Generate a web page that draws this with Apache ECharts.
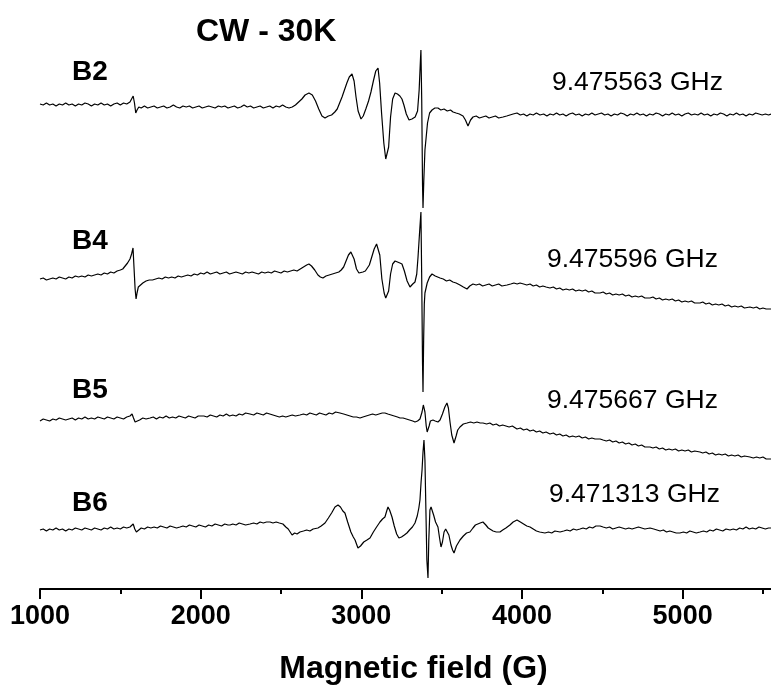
<!DOCTYPE html>
<html><head><meta charset="utf-8">
<script src="https://cdn.jsdelivr.net/npm/echarts@6/dist/echarts.min.js"></script>
<style>html,body{margin:0;padding:0;background:#fff}#c{width:771px;height:692px}</style>
</head><body><div id="c"></div><script>
const FONT = '"Liberation Sans", Arial, sans-serif';
const majorTicks = [1000, 2000, 3000, 4000, 5000];
const minorTicks = [1500, 2500, 3500, 4500, 5500];
const sampleNames = ['B2', 'B4', 'B5', 'B6'];
const frequencies = ['9.475563 GHz', '9.475596 GHz', '9.475667 GHz', '9.471313 GHz'];
const traceOffsets = [484, 310, 169, 59];

const traceB2 = [[1000,1],[1020,0],[1040,2],[1060,0],[1080,1],[1100,-1],[1120,1],[1140,0],[1160,2],[1180,0],[1200,1],[1220,-1],[1240,1],[1260,0],[1280,2],[1300,1],[1320,-1],[1340,1],[1360,0],[1380,2],[1400,0],[1420,1],[1440,-1],[1460,1],[1480,2],[1500,0],[1520,2],[1540,1],[1560,3],[1572,5],[1580,9],[1588,2],[1596,-8],[1604,-5],[1615,-2],[1630,-3],[1650,-1],[1670,-3],[1690,-2],[1710,-1],[1730,-3],[1750,-2],[1770,-1],[1790,-3],[1810,-2],[1830,0],[1850,-2],[1870,-3],[1890,-1],[1910,-2],[1930,-1],[1950,-3],[1970,-2],[1990,-1],[2010,-3],[2030,-2],[2050,-1],[2070,-2],[2090,-3],[2110,-1],[2130,-2],[2150,-1],[2170,-3],[2190,-2],[2210,-1],[2230,-3],[2250,-2],[2270,0],[2290,-2],[2310,-1],[2330,-3],[2350,-2],[2370,-1],[2390,-3],[2410,-2],[2430,-1],[2450,-3],[2470,-1],[2490,-2],[2510,0],[2530,-2],[2550,-3],[2570,-2],[2590,0],[2610,3],[2630,6],[2650,10],[2674,12],[2695,10],[2715,4],[2735,-4],[2755,-11],[2774,-13],[2795,-11],[2815,-10],[2835,-7],[2850,-4],[2865,2],[2880,8],[2895,15],[2910,22],[2925,28],[2942,31],[2955,24],[2967,8],[2980,-6],[2998,-14],[3012,-11],[3028,-4],[3045,4],[3060,13],[3075,24],[3090,34],[3104,37],[3114,22],[3126,-8],[3140,-38],[3152,-54],[3160,-56],[3170,-42],[3182,-12],[3195,6],[3210,12],[3225,11],[3240,9],[3253,6],[3265,0],[3280,-9],[3297,-15],[3315,-14],[3335,-12],[3350,-6],[3360,15],[3368,45],[3371,55],[3376,5],[3381,-80],[3384,-103],[3389,-75],[3396,-45],[3402,-35],[3412,-18],[3425,-8],[3440,-5],[3458,-3],[3477,-3],[3495,-5],[3515,-4],[3535,-6],[3555,-5],[3571,-7],[3590,-8],[3610,-9],[3633,-11],[3648,-15],[3664,-21],[3680,-15],[3695,-12],[3715,-11],[3735,-13],[3755,-12],[3775,-11],[3795,-13],[3815,-12],[3835,-11],[3855,-13],[3882,-12],[3905,-11],[3925,-10],[3945,-9],[3969,-8],[3990,-10],[4010,-9],[4030,-11],[4050,-9],[4070,-10],[4090,-8],[4112,-10],[4135,-9],[4155,-11],[4175,-9],[4195,-10],[4215,-8],[4235,-10],[4255,-9],[4275,-11],[4295,-9],[4315,-8],[4335,-10],[4355,-9],[4375,-11],[4395,-9],[4415,-10],[4435,-8],[4455,-10],[4475,-9],[4495,-8],[4515,-10],[4535,-9],[4555,-11],[4575,-9],[4595,-10],[4615,-8],[4635,-9],[4655,-11],[4675,-9],[4695,-10],[4715,-8],[4735,-10],[4755,-9],[4775,-11],[4795,-9],[4815,-10],[4835,-8],[4855,-9],[4875,-11],[4895,-9],[4915,-10],[4935,-8],[4955,-10],[4975,-9],[4995,-11],[5015,-9],[5035,-8],[5055,-10],[5075,-9],[5095,-10],[5115,-8],[5135,-10],[5155,-9],[5175,-11],[5195,-9],[5215,-10],[5235,-8],[5255,-9],[5275,-11],[5295,-9],[5315,-10],[5335,-8],[5355,-10],[5375,-9],[5395,-11],[5415,-9],[5435,-10],[5455,-8],[5475,-9],[5495,-10],[5515,-9],[5535,-10],[5550,-9]];

const traceB4 = [[1000,0],[1020,1],[1040,-1],[1060,0],[1080,1],[1100,0],[1120,2],[1140,1],[1160,0],[1180,2],[1200,1],[1220,3],[1240,2],[1260,3],[1280,2],[1300,4],[1320,3],[1340,4],[1360,5],[1380,4],[1400,6],[1420,5],[1440,7],[1460,6],[1480,8],[1500,9],[1515,10],[1530,13],[1545,16],[1560,20],[1570,25],[1579,31],[1585,12],[1592,-10],[1598,-20],[1604,-14],[1612,-8],[1622,-6],[1640,-4],[1660,-2],[1680,-1],[1700,-1],[1720,0],[1740,1],[1760,0],[1780,2],[1800,1],[1820,2],[1840,1],[1860,3],[1880,2],[1900,3],[1920,4],[1940,3],[1960,5],[1980,4],[2000,6],[2020,5],[2040,7],[2060,5],[2080,6],[2100,7],[2120,5],[2140,6],[2160,7],[2180,5],[2200,6],[2220,7],[2240,6],[2260,5],[2280,7],[2300,6],[2320,7],[2340,6],[2360,5],[2380,7],[2400,6],[2420,7],[2440,6],[2460,8],[2480,7],[2500,6],[2520,8],[2540,7],[2560,8],[2580,9],[2600,8],[2620,10],[2640,12],[2660,14],[2674,15],[2690,13],[2710,9],[2730,4],[2745,2],[2761,1],[2780,3],[2800,4],[2820,5],[2840,6],[2860,7],[2875,9],[2890,12],[2905,18],[2920,24],[2935,27],[2942,28],[2955,20],[2970,10],[2985,6],[2992,6],[3010,7],[3025,8],[3035,9],[3050,14],[3065,22],[3080,30],[3095,35],[3104,36],[3115,24],[3128,0],[3142,-14],[3152,-19],[3160,-20],[3170,-12],[3182,5],[3195,15],[3210,18],[3225,17],[3240,16],[3253,15],[3268,8],[3285,-2],[3303,-8],[3320,-5],[3334,-3],[3345,5],[3353,22],[3362,45],[3371,67],[3376,0],[3381,-85],[3384,-113],[3388,-60],[3392,-25],[3396,-14],[3410,-4],[3425,2],[3440,5],[3460,3],[3490,1],[3510,0],[3530,-2],[3550,-1],[3570,-3],[3590,-4],[3614,-6],[3635,-8],[3658,-10],[3675,-7],[3695,-5],[3715,-6],[3735,-5],[3755,-7],[3775,-6],[3795,-5],[3815,-7],[3835,-6],[3855,-5],[3875,-7],[3907,-6],[3930,-5],[3950,-4],[3970,-5],[3988,-4],[4010,-5],[4030,-6],[4050,-5],[4070,-7],[4090,-6],[4110,-8],[4130,-7],[4150,-8],[4174,-9],[4195,-8],[4215,-10],[4235,-9],[4255,-11],[4275,-10],[4295,-11],[4315,-10],[4335,-12],[4355,-11],[4375,-12],[4395,-11],[4415,-13],[4435,-12],[4455,-14],[4486,-14],[4505,-13],[4525,-15],[4545,-14],[4565,-16],[4585,-15],[4605,-16],[4625,-15],[4645,-17],[4665,-16],[4685,-18],[4705,-17],[4725,-18],[4745,-17],[4765,-19],[4797,-19],[4815,-18],[4835,-20],[4855,-19],[4875,-21],[4895,-20],[4915,-21],[4935,-20],[4955,-22],[4975,-21],[4995,-23],[5015,-22],[5035,-23],[5055,-22],[5075,-24],[5108,-24],[5125,-23],[5145,-25],[5165,-24],[5185,-26],[5205,-25],[5225,-26],[5245,-25],[5265,-27],[5285,-26],[5305,-28],[5325,-27],[5345,-28],[5365,-27],[5385,-29],[5419,-28],[5440,-29],[5460,-28],[5480,-30],[5500,-29],[5520,-30],[5550,-30]];

const traceB5 = [[1000,-1],[1020,1],[1040,0],[1060,-1],[1080,1],[1100,0],[1120,2],[1140,1],[1160,0],[1180,1],[1200,2],[1220,0],[1240,2],[1260,1],[1280,3],[1300,1],[1320,2],[1340,1],[1360,3],[1380,2],[1400,1],[1420,3],[1440,2],[1460,1],[1480,3],[1500,2],[1520,1],[1540,3],[1560,4],[1573,6],[1582,2],[1592,-2],[1604,-2],[1620,0],[1640,2],[1660,1],[1685,2],[1705,3],[1725,1],[1745,3],[1765,2],[1785,4],[1805,2],[1825,3],[1845,2],[1865,4],[1885,3],[1905,2],[1925,4],[1945,3],[1965,2],[1985,4],[1996,3],[2020,4],[2040,3],[2060,5],[2080,4],[2100,3],[2120,5],[2140,4],[2160,6],[2180,4],[2200,5],[2220,4],[2240,6],[2260,5],[2280,7],[2307,6],[2330,5],[2350,7],[2370,6],[2390,5],[2410,7],[2430,6],[2450,5],[2470,4],[2490,3],[2510,4],[2530,3],[2550,4],[2570,5],[2590,4],[2618,5],[2640,6],[2660,5],[2680,7],[2700,6],[2720,5],[2740,7],[2760,6],[2780,5],[2800,7],[2820,6],[2840,8],[2867,7],[2890,6],[2910,5],[2930,4],[2950,3],[2970,3],[2992,2],[3010,3],[3030,4],[3050,5],[3070,6],[3090,5],[3110,6],[3130,7],[3147,7],[3165,6],[3185,5],[3205,4],[3225,3],[3241,2],[3260,2],[3280,1],[3300,0],[3320,-1],[3334,-2],[3350,-1],[3365,1],[3378,8],[3386,15],[3390,17],[3396,8],[3404,-6],[3410,-12],[3415,-13],[3422,-6],[3430,-1],[3446,0],[3460,-1],[3477,-2],[3490,0],[3505,6],[3520,13],[3533,17],[3542,12],[3552,-2],[3563,-15],[3577,-23],[3590,-16],[3600,-10],[3614,-7],[3635,-4],[3658,-3],[3680,-2],[3700,-3],[3720,-2],[3740,-3],[3757,-3],[3780,-4],[3800,-3],[3820,-5],[3840,-4],[3860,-6],[3880,-5],[3900,-6],[3920,-7],[3940,-6],[3969,-9],[3990,-8],[4010,-10],[4030,-9],[4050,-11],[4070,-10],[4090,-12],[4110,-11],[4130,-13],[4150,-12],[4174,-14],[4195,-13],[4215,-15],[4235,-14],[4255,-16],[4275,-15],[4295,-17],[4315,-16],[4335,-17],[4355,-16],[4375,-18],[4395,-17],[4415,-19],[4435,-18],[4455,-19],[4486,-19],[4505,-20],[4525,-21],[4545,-20],[4565,-22],[4585,-21],[4605,-23],[4625,-22],[4645,-24],[4665,-23],[4685,-25],[4705,-24],[4725,-26],[4745,-25],[4765,-27],[4797,-27],[4815,-28],[4835,-27],[4855,-29],[4875,-28],[4895,-30],[4915,-29],[4935,-30],[4955,-29],[4975,-31],[4995,-30],[5015,-31],[5035,-30],[5055,-32],[5075,-31],[5108,-32],[5125,-33],[5145,-32],[5165,-34],[5185,-33],[5205,-35],[5225,-34],[5245,-35],[5265,-34],[5285,-36],[5305,-35],[5325,-36],[5345,-35],[5365,-37],[5385,-36],[5419,-37],[5440,-38],[5460,-37],[5480,-38],[5500,-37],[5520,-39],[5550,-39]];

const traceB6 = [[1000,0],[1020,1],[1040,-1],[1060,1],[1080,0],[1100,2],[1120,0],[1140,1],[1160,-1],[1180,1],[1200,0],[1220,2],[1240,1],[1260,0],[1280,2],[1300,1],[1320,0],[1340,2],[1360,1],[1380,0],[1400,2],[1420,1],[1440,3],[1460,1],[1480,2],[1500,1],[1520,3],[1540,2],[1560,3],[1572,4],[1580,6],[1590,1],[1600,-2],[1612,0],[1630,2],[1650,1],[1670,3],[1690,2],[1710,3],[1730,2],[1750,4],[1770,3],[1790,2],[1810,4],[1830,3],[1850,2],[1871,3],[1890,4],[1910,3],[1930,5],[1950,4],[1970,3],[1990,5],[2010,4],[2030,3],[2050,5],[2070,4],[2090,6],[2110,5],[2130,4],[2150,6],[2170,5],[2183,5],[2200,6],[2220,5],[2240,7],[2260,6],[2280,5],[2307,6],[2330,7],[2350,6],[2370,8],[2390,7],[2410,8],[2432,8],[2450,7],[2470,8],[2490,7],[2512,6],[2530,3],[2545,1],[2556,0],[2569,-5],[2585,-3],[2600,-4],[2618,-2],[2640,-1],[2660,0],[2680,-1],[2700,1],[2712,1],[2730,2],[2750,4],[2774,7],[2795,12],[2815,17],[2836,23],[2855,25],[2870,23],[2885,19],[2898,17],[2915,8],[2935,-2],[2950,-7],[2961,-10],[2979,-18],[2995,-16],[3015,-12],[3035,-10],[3054,-8],[3075,-2],[3095,3],[3116,8],[3132,11],[3147,13],[3158,19],[3166,23],[3176,20],[3191,13],[3205,4],[3220,-4],[3234,-8],[3250,-7],[3268,-5],[3284,-3],[3300,0],[3318,3],[3334,7],[3348,14],[3358,22],[3365,30],[3372,48],[3378,60],[3384,78],[3390,90],[3396,70],[3402,20],[3408,-30],[3415,-48],[3420,-10],[3427,20],[3434,23],[3440,23],[3450,15],[3462,8],[3477,3],[3487,-8],[3496,-17],[3505,-12],[3515,-2],[3525,1],[3533,2],[3545,-5],[3558,-15],[3568,-20],[3577,-23],[3592,-16],[3614,-10],[3635,-6],[3655,-3],[3676,-2],[3695,2],[3710,5],[3720,7],[3740,7],[3757,8],[3775,5],[3790,2],[3801,0],[3820,-1],[3840,-2],[3863,-2],[3880,0],[3900,2],[3925,5],[3945,8],[3969,10],[3990,8],[4010,6],[4030,4],[4050,3],[4070,1],[4090,-1],[4110,-2],[4143,-3],[4165,-2],[4185,-3],[4205,-1],[4237,-2],[4260,-1],[4280,0],[4300,-1],[4320,1],[4340,0],[4361,1],[4380,2],[4400,1],[4420,3],[4440,2],[4460,4],[4486,4],[4505,3],[4525,2],[4545,3],[4565,1],[4585,2],[4605,3],[4625,2],[4645,1],[4665,2],[4685,1],[4705,2],[4725,3],[4745,2],[4765,1],[4797,2],[4820,1],[4840,0],[4860,-1],[4880,0],[4900,-2],[4920,-1],[4940,-2],[4960,-3],[4983,-3],[5005,-2],[5025,-3],[5045,-1],[5065,-2],[5085,-3],[5108,-2],[5130,-1],[5150,-2],[5170,0],[5190,-1],[5210,1],[5230,0],[5250,-1],[5270,1],[5295,0],[5315,1],[5335,0],[5355,2],[5375,1],[5395,3],[5415,1],[5435,2],[5455,1],[5475,3],[5495,2],[5515,1],[5535,2],[5550,2]];

const traces = [traceB2, traceB4, traceB5, traceB6];

const chart = echarts.init(document.getElementById('c'), null, {renderer: 'canvas'});

const series = traces.map((t, i) => ({
  type: 'line',
  name: sampleNames[i],
  data: t.map(p => [p[0], p[1] + traceOffsets[i]]),
  showSymbol: false,
  symbol: 'none',
  lineStyle: {color: '#000', width: 1.2},
  itemStyle: {color: '#000'},
  xAxisIndex: 0,
  yAxisIndex: 0,
  animation: false
}));

const labelY = [72.5, 241.5, 390, 503];
const freqPos = [[552, 82.5], [547, 260], [547, 401], [549, 495]];

const graphic = [
  {type: 'text', x: 196, y: 32.5, style: {text: 'CW - 30K', font: 'bold 32px ' + FONT, fill: '#000', verticalAlign: 'middle'}}
];
sampleNames.forEach((n, i) => {
  graphic.push({type: 'text', x: 72, y: labelY[i], style: {text: n, font: 'bold 28px ' + FONT, fill: '#000', verticalAlign: 'middle'}});
  graphic.push({type: 'text', x: freqPos[i][0], y: freqPos[i][1], style: {text: frequencies[i], font: '26.5px ' + FONT, fill: '#000', verticalAlign: 'middle'}});
});

chart.setOption({
  animation: false,
  backgroundColor: '#fff',
  grid: {left: 40, right: 0, top: 0, bottom: 103, containLabel: false},
  xAxis: [
    {
      type: 'value', min: 1000, max: 5550, position: 'bottom',
      axisLine: {show: true, lineStyle: {color: '#000', width: 2}},
      axisTick: {show: true, customValues: majorTicks, length: 10, inside: false, lineStyle: {color: '#000', width: 2}},
      axisLabel: {show: true, customValues: majorTicks, margin: 14, fontSize: 27, fontWeight: 'bold', color: '#000', fontFamily: FONT,
        formatter: v => String(v)},
      splitLine: {show: false},
      name: 'Magnetic field (G)', nameLocation: 'middle', nameGap: 64,
      nameTextStyle: {fontSize: 32, fontWeight: 'bold', color: '#000', fontFamily: FONT, padding: [0, 0, 0, 16]}
    },
    {
      type: 'value', min: 1000, max: 5550, position: 'bottom',
      axisLine: {show: false},
      axisTick: {show: true, customValues: minorTicks, length: 5, inside: false, lineStyle: {color: '#000', width: 2}},
      axisLabel: {show: false},
      splitLine: {show: false}
    }
  ],
  yAxis: {type: 'value', min: 0, max: 589, show: false, splitLine: {show: false}},
  series: series,
  graphic: graphic
});
</script></body></html>
